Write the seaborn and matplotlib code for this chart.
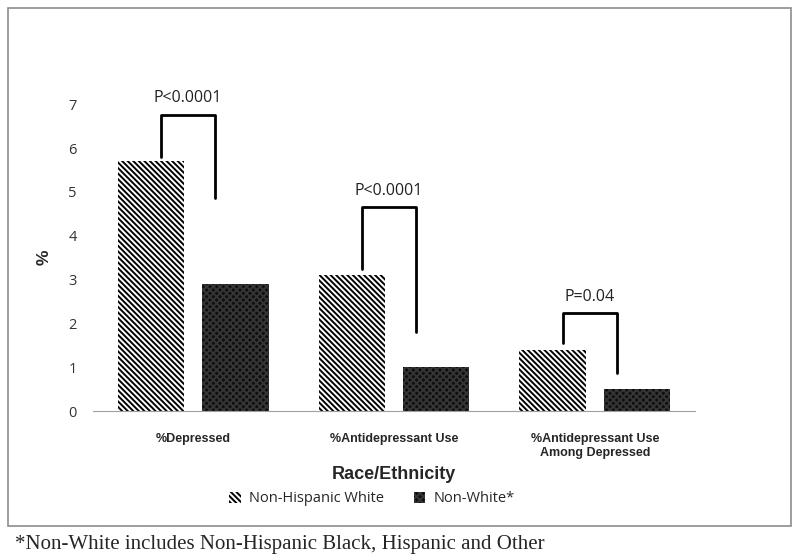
import pandas as pd
import seaborn as sns
import matplotlib.pyplot as plt
from matplotlib.patches import Patch, Rectangle

sns.set_style('white')
plt.rcParams['hatch.linewidth'] = 1.4

categories = ['%Depressed', '%Antidepressant Use', '%Antidepressant Use\nAmong Depressed']
groups = ['Non-Hispanic White', 'Non-White*']
white_vals = [5.7, 3.1, 1.4]
nonwhite_vals = [2.9, 1.0, 0.5]
p_labels = ['P<0.0001', 'P<0.0001', 'P=0.04']
# bracket heights: top, left leg end, right leg end
br_top = [6.75, 4.65, 2.23]
br_left = [5.8, 3.25, 1.55]
br_right = [4.85, 1.8, 0.87]

df = pd.DataFrame({
    'category': categories * 2,
    'group': [groups[0]] * 3 + [groups[1]] * 3,
    'value': white_vals + nonwhite_vals,
})

fig = plt.figure(figsize=(8, 5.6), dpi=100)
ax = fig.add_axes([0.116, 0.266, 0.753, 0.548])

sns.barplot(data=df, x='category', y='value', hue='group', hue_order=groups,
            palette=['white', '#0e0e0e'], width=0.84, gap=0.21,
            legend=False, ax=ax)

stripe = '\\' * 6
dots = 'x' * 5
# textures
for bar in ax.containers[0]:
    bar.set_hatch(stripe)
    bar.set_edgecolor('black')
    bar.set_linewidth(0)
for bar in ax.containers[1]:
    bar.set_hatch(dots)
    bar.set_edgecolor('#353535')
    bar.set_linewidth(0)

# significance brackets
for i in range(3):
    xl, xr = i - 0.16, i + 0.11
    ax.plot([xl, xl, xr, xr], [br_left[i], br_top[i], br_top[i], br_right[i]],
            color='black', lw=2, clip_on=False)
    ax.text((xl + xr) / 2, br_top[i] + 0.38, p_labels[i], ha='center', va='center',
            fontsize=11.5, family='Open Sans', color='#222222')

ax.set_ylim(0, 7)
ax.set_xlim(-0.5, 2.5)
ax.set_yticks(range(8))
ax.tick_params(axis='y', labelsize=10.5, colors='#333333', pad=8)
for t in ax.get_yticklabels():
    t.set_family('Open Sans')
for t in ax.get_xticklabels():
    t.set_family('Liberation Sans')
    t.set_fontweight('bold')
    t.set_fontsize(9)
ax.tick_params(axis='x', length=0, pad=16)
ax.set_ylabel('%', fontsize=12.5, fontweight='bold', family='Liberation Sans', labelpad=12)
ax.set_xlabel('Race/Ethnicity', fontsize=13, fontweight='bold', family='Liberation Sans',
              labelpad=5)

sns.despine(ax=ax, left=True)
ax.spines['bottom'].set_color('#a0a0a0')

handles = [Patch(facecolor='white', edgecolor='black', hatch=stripe, lw=0),
           Patch(facecolor='#0e0e0e', edgecolor='#353535', hatch=dots, lw=0)]
fig.legend(handles, groups, loc='center', bbox_to_anchor=(0.465, 0.109), ncol=2,
           frameon=False, prop={'family': 'Open Sans', 'size': 10.5},
           handlelength=0.8, handleheight=0.8, columnspacing=2.0, handletextpad=0.6)

fig.patches.append(Rectangle((8 / 800, 1 - 526 / 560), 783 / 800, 518 / 560,
                             transform=fig.transFigure, fill=False,
                             edgecolor='#8c8c8c', lw=1.2))
fig.text(15 / 800, 1 - 545 / 560, '*Non-White includes Non-Hispanic Black, Hispanic and Other',
         family='Liberation Serif', fontsize=15, va='center', ha='left')

plt.savefig('out.png', dpi=100)
